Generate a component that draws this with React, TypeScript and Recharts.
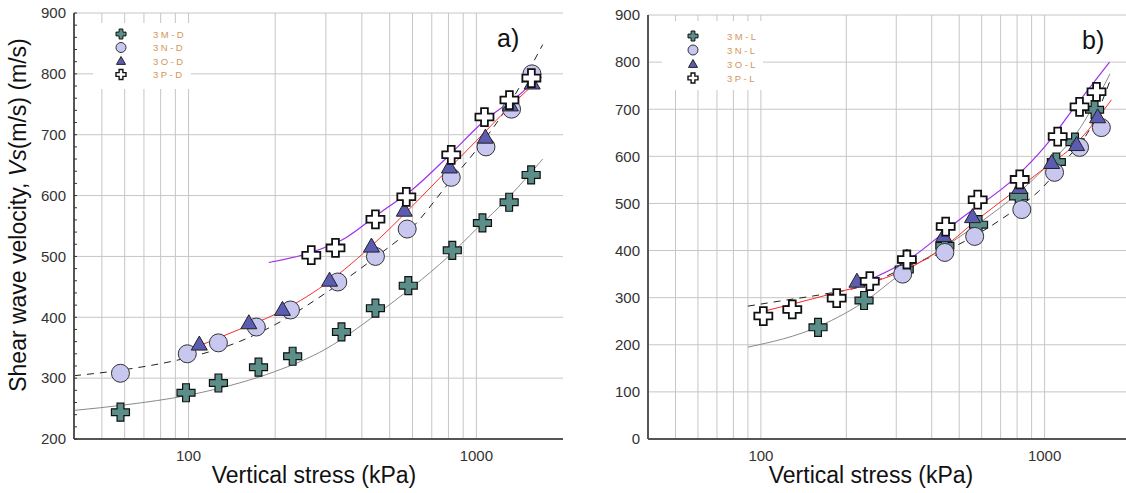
import React from "react";
import { ComposedChart, Scatter, Line, XAxis, YAxis, CartesianGrid } from "recharts";

type Pt = { x: number; y: number };

// panel a) measured points (kPa, m/s)
const m3D: Pt[] = [
  { x: 58, y: 244 }, { x: 98, y: 276 }, { x: 127, y: 292 }, { x: 175, y: 318 },
  { x: 230, y: 336 }, { x: 340, y: 376 }, { x: 446, y: 415 }, { x: 580, y: 452 },
  { x: 825, y: 510 }, { x: 1050, y: 555 }, { x: 1300, y: 589 }, { x: 1550, y: 634 },
];
const n3D: Pt[] = [
  { x: 58, y: 308 }, { x: 99, y: 340 }, { x: 127, y: 358 }, { x: 172, y: 384 },
  { x: 226, y: 412 }, { x: 330, y: 458 }, { x: 446, y: 500 }, { x: 575, y: 545 },
  { x: 818, y: 630 }, { x: 1080, y: 680 }, { x: 1325, y: 742 }, { x: 1560, y: 800 },
];
const o3D: Pt[] = [
  { x: 109, y: 356 }, { x: 162, y: 391 }, { x: 212, y: 413 }, { x: 309, y: 461 },
  { x: 432, y: 517 }, { x: 562, y: 576 }, { x: 806, y: 647 }, { x: 1075, y: 696 },
  { x: 1312, y: 749 }, { x: 1563, y: 785 },
];
const p3D: Pt[] = [
  { x: 267, y: 502 }, { x: 324, y: 514 }, { x: 446, y: 561 }, { x: 571, y: 598 },
  { x: 818, y: 667 }, { x: 1067, y: 729 }, { x: 1303, y: 757 }, { x: 1553, y: 793 },
];

// panel a) fitted curves
const fitM_D: Pt[] = [
  { x: 40, y: 247 }, { x: 60, y: 256 }, { x: 100, y: 272 }, { x: 150, y: 292 },
  { x: 200, y: 311 }, { x: 300, y: 348 }, { x: 450, y: 405 }, { x: 600, y: 450 },
  { x: 800, y: 500 }, { x: 1000, y: 545 }, { x: 1300, y: 598 }, { x: 1700, y: 660 },
];
const fitN_D: Pt[] = [
  { x: 40, y: 304 }, { x: 60, y: 314 }, { x: 100, y: 334 }, { x: 150, y: 360 },
  { x: 200, y: 388 }, { x: 300, y: 440 }, { x: 450, y: 500 }, { x: 600, y: 548 },
  { x: 800, y: 620 }, { x: 1000, y: 675 }, { x: 1300, y: 750 }, { x: 1700, y: 848 },
];
const fitO_D: Pt[] = [
  { x: 105, y: 350 }, { x: 150, y: 380 }, { x: 200, y: 405 }, { x: 300, y: 455 },
  { x: 450, y: 525 }, { x: 550, y: 565 }, { x: 750, y: 630 }, { x: 1000, y: 690 },
  { x: 1300, y: 745 }, { x: 1690, y: 795 },
];
const fitP_D: Pt[] = [
  { x: 190, y: 490 }, { x: 260, y: 505 }, { x: 350, y: 530 }, { x: 460, y: 571 },
  { x: 600, y: 610 }, { x: 800, y: 665 }, { x: 1050, y: 720 }, { x: 1500, y: 777 },
  { x: 1670, y: 800 },
];

// panel b) measured points
const m3L: Pt[] = [
  { x: 159, y: 237 }, { x: 231, y: 294 }, { x: 320, y: 360 }, { x: 445, y: 410 },
  { x: 585, y: 455 }, { x: 810, y: 515 }, { x: 1100, y: 588 }, { x: 1280, y: 630 },
  { x: 1500, y: 699 },
];
const n3L: Pt[] = [
  { x: 316, y: 350 }, { x: 445, y: 396 }, { x: 567, y: 430 }, { x: 831, y: 487 },
  { x: 1084, y: 566 }, { x: 1328, y: 619 }, { x: 1585, y: 661 },
];
const o3L: Pt[] = [
  { x: 218, y: 335 }, { x: 327, y: 386 }, { x: 441, y: 432 }, { x: 557, y: 472 },
  { x: 817, y: 534 }, { x: 1059, y: 587 }, { x: 1297, y: 625 }, { x: 1538, y: 684 },
];
const p3L: Pt[] = [
  { x: 102, y: 261 }, { x: 129, y: 275 }, { x: 185, y: 299 }, { x: 242, y: 335 },
  { x: 327, y: 381 }, { x: 448, y: 451 }, { x: 581, y: 508 }, { x: 817, y: 551 },
  { x: 1112, y: 642 }, { x: 1328, y: 705 }, { x: 1524, y: 737 },
];

// panel b) fitted curves
const fitM_L: Pt[] = [
  { x: 90, y: 195 }, { x: 160, y: 239 }, { x: 240, y: 298 }, { x: 300, y: 343 },
  { x: 450, y: 410 }, { x: 600, y: 462 }, { x: 800, y: 520 }, { x: 1000, y: 575 },
  { x: 1300, y: 650 }, { x: 1700, y: 775 },
];
const fitN_L: Pt[] = [
  { x: 90, y: 282 }, { x: 120, y: 294 }, { x: 165, y: 307 }, { x: 230, y: 325 },
  { x: 330, y: 367 }, { x: 450, y: 400 }, { x: 600, y: 440 }, { x: 800, y: 490 },
  { x: 950, y: 525 }, { x: 1200, y: 595 }, { x: 1440, y: 657 }, { x: 1700, y: 760 },
];
const fitO_L: Pt[] = [
  { x: 102, y: 271 }, { x: 185, y: 311 }, { x: 250, y: 333 }, { x: 430, y: 402 },
  { x: 580, y: 466 }, { x: 800, y: 530 }, { x: 1000, y: 575 }, { x: 1280, y: 625 },
  { x: 1720, y: 720 },
];
const fitP_L: Pt[] = [
  { x: 225, y: 330 }, { x: 330, y: 380 }, { x: 502, y: 466 }, { x: 795, y: 557 },
  { x: 1000, y: 620 }, { x: 1256, y: 699 }, { x: 1694, y: 800 },
];

// axes
const xDomain: [number, number] = [40, 2000];
const xLabelTicks = [100, 1000];
const xGridValues = [50, 60, 70, 80, 90, 100, 200, 300, 400, 500, 600, 700, 800, 900, 1000];
const yMajorA = [200, 300, 400, 500, 600, 700, 800, 900];
const yMinorA = [
  200, 220, 240, 260, 280, 300, 320, 340, 360, 380, 400, 420, 440, 460, 480, 500,
  520, 540, 560, 580, 600, 620, 640, 660, 680, 700, 720, 740, 760, 780, 800, 820,
  840, 860, 880, 900,
];
const yMajorB = [0, 100, 200, 300, 400, 500, 600, 700, 800, 900];
const legendA = ["3M-D", "3N-D", "3O-D", "3P-D"];
const legendB = ["3M-L", "3N-L", "3O-L", "3P-L"];

const FONT = "Arial, 'Liberation Sans', sans-serif";
const TEAL = "#5b8d89";
const LAV = "#c7c7f0";
const NAVY = "#5c5cb2";
const GRID = "#c6c6c6";
const AXIS = "#555";

const plusPath = (cx: number, cy: number, a: number, t: number) =>
  `M${cx - t},${cy - a}H${cx + t}V${cy - t}H${cx + a}V${cy + t}H${cx + t}V${cy + a}H${cx - t}V${cy + t}H${cx - a}V${cy - t}H${cx - t}Z`;

function Plus({ cx, cy, fill, a = 9, t = 3.4, sw = 1.2 }: any) {
  return <path d={plusPath(cx, cy, a, t)} fill={fill} stroke="#111" strokeWidth={sw} />;
}
function Dot({ cx, cy, r = 9 }: any) {
  return <circle cx={cx} cy={cy} r={r} fill={LAV} stroke="#333" strokeWidth={1} />;
}
function Tri({ cx, cy, s = 8 }: any) {
  return (
    <polygon
      points={`${cx},${cy - s} ${cx + s},${cy + s * 0.75} ${cx - s},${cy + s * 0.75}`}
      fill={NAVY}
      stroke="#222"
      strokeWidth={1}
    />
  );
}

const shapeM = (p: any) => <Plus cx={p.cx} cy={p.cy} fill={TEAL} />;
const shapeN = (p: any) => <Dot cx={p.cx} cy={p.cy} />;
const shapeO = (p: any) => <Tri cx={p.cx} cy={p.cy} />;
const shapeP = (p: any) => <Plus cx={p.cx} cy={p.cy} fill="#fff" sw={1.8} />;

const makeYTick = (majors: number[], inward: number) => (props: any) => {
  const { x, y, payload } = props;
  const v = payload.value;
  const axisX = x + 8;
  return (
    <g>
      {inward > 0 && <line x1={axisX} x2={axisX + inward} y1={y} y2={y} stroke="#333" />}
      {majors.includes(v) && (
        <text x={x} y={y} dy="0.355em" textAnchor="end" fontSize={15} fill="#333" fontFamily={FONT}>
          {v}
        </text>
      )}
    </g>
  );
};

type PanelProps = {
  width: number;
  margin: { top: number; right: number; bottom: number; left: number };
  yWidth: number;
  yDomain: [number, number];
  yMajor: number[];
  yMinor?: number[];
  m: Pt[]; n: Pt[]; o: Pt[]; p: Pt[];
  fm: Pt[]; fn: Pt[]; fo: Pt[]; fp: Pt[];
};

function Panel(pp: PanelProps) {
  const ticks = pp.yMinor ?? pp.yMajor;
  return (
    <ComposedChart width={pp.width} height={493} margin={pp.margin}>
      <CartesianGrid
        stroke={GRID}
        verticalValues={xGridValues}
        horizontalValues={pp.yMajor}
      />
      <XAxis
        dataKey="x"
        type="number"
        scale="log"
        domain={xDomain}
        allowDataOverflow
        ticks={xLabelTicks}
        interval={0}
        height={54}
        tickLine={false}
        tickSize={6}
        tickMargin={5}
        axisLine={{ stroke: AXIS, strokeWidth: 2 }}
        tick={{ fontSize: 15, fill: "#333", fontFamily: FONT }}
      />
      <XAxis
        xAxisId="top"
        orientation="top"
        type="number"
        scale="log"
        domain={xDomain}
        allowDataOverflow
        height={0}
        tick={false}
        tickLine={false}
        axisLine={{ stroke: AXIS, strokeWidth: 1.5 }}
      />
      <YAxis
        dataKey="y"
        type="number"
        domain={pp.yDomain}
        allowDataOverflow
        ticks={ticks}
        interval={0}
        width={pp.yWidth}
        tickLine={false}
        tickSize={6}
        tickMargin={2}
        axisLine={{ stroke: AXIS, strokeWidth: 2 }}
        tick={makeYTick(pp.yMajor, pp.yMinor ? 3 : 0)}
      />
      <YAxis
        yAxisId="r"
        orientation="right"
        type="number"
        domain={pp.yDomain}
        allowDataOverflow
        ticks={ticks}
        interval={0}
        width={0}
        mirror
        tickSize={3}
        tick={false}
        tickLine={{ stroke: "#222" }}
        axisLine={{ stroke: "#333", strokeWidth: 2 }}
      />
      <Scatter data={pp.m} dataKey="y" shape={shapeM} isAnimationActive={false} />
      <Scatter data={pp.n} dataKey="y" shape={shapeN} isAnimationActive={false} />
      <Scatter data={pp.o} dataKey="y" shape={shapeO} isAnimationActive={false} />
      <Scatter data={pp.p} dataKey="y" shape={shapeP} isAnimationActive={false} />
      <Line data={pp.fm} dataKey="y" type="monotone" stroke="#8a8a8a" strokeWidth={1} dot={false} activeDot={false} isAnimationActive={false} />
      <Line data={pp.fn} dataKey="y" type="monotone" stroke="#222" strokeWidth={1} strokeDasharray="7 6" dot={false} activeDot={false} isAnimationActive={false} />
      <Line data={pp.fo} dataKey="y" type="monotone" stroke="#ff2a2a" strokeWidth={1} dot={false} activeDot={false} isAnimationActive={false} />
      <Line data={pp.fp} dataKey="y" type="monotone" stroke="#a030f0" strokeWidth={1.2} dot={false} activeDot={false} isAnimationActive={false} />
    </ComposedChart>
  );
}

function LegendBox({ x, y, w, h, sx, tx, rows, labels }: any) {
  return (
    <g>
      <rect x={x} y={y} width={w} height={h} fill="#fff" />
      {labels.map((lab: string, i: number) => {
        const cy = rows[i];
        return (
          <g key={lab}>
            {i === 0 && <Plus cx={sx} cy={cy} fill={TEAL} a={5} t={1.9} sw={1} />}
            {i === 1 && <Dot cx={sx} cy={cy} r={5} />}
            {i === 2 && <Tri cx={sx} cy={cy} s={4.5} />}
            {i === 3 && <Plus cx={sx} cy={cy} fill="#fff" a={5} t={1.9} sw={1.4} />}
            <text x={tx} y={cy + 3.5} fontSize={9.5} letterSpacing={2.5} fill="#d4965a" fontFamily={FONT}>
              {lab}
            </text>
          </g>
        );
      })}
    </g>
  );
}

export default function App() {
  return (
    <div
      style={{
        position: "fixed",
        left: 0,
        top: 0,
        width: 1126,
        height: 493,
        overflow: "hidden",
        background: "#fff",
      }}
    >
      <div style={{ position: "absolute", left: 0, top: 0 }}>
        <Panel
          width={580}
          margin={{ top: 13, right: 17, bottom: 0, left: 0 }}
          yWidth={74}
          yDomain={[200, 900]}
          yMajor={yMajorA}
          yMinor={yMinorA}
          m={m3D} n={n3D} o={o3D} p={p3D}
          fm={fitM_D} fn={fitN_D} fo={fitO_D} fp={fitP_D}
        />
      </div>
      <div style={{ position: "absolute", left: 600, top: 0 }}>
        <Panel
          width={560}
          margin={{ top: 15, right: 30, bottom: 0, left: 0 }}
          yWidth={48}
          yDomain={[0, 900]}
          yMajor={yMajorB}
          m={m3L} n={n3L} o={o3L} p={p3L}
          fm={fitM_L} fn={fitN_L} fo={fitO_L} fp={fitP_L}
        />
      </div>
      <svg
        width={1126}
        height={493}
        style={{ position: "absolute", left: 0, top: 0, pointerEvents: "none" }}
      >
        <LegendBox x={93} y={23} w={98} h={66} sx={121} tx={153} rows={[34, 47.5, 61, 74.5]} labels={legendA} />
        <LegendBox x={662} y={21} w={101} h={69} sx={693} tx={727} rows={[36, 50, 64, 78]} labels={legendB} />
        <text x={497} y={47} fontSize={25} fill="#111" fontFamily={FONT}>a)</text>
        <text x={1082} y={49} fontSize={25} fill="#111" fontFamily={FONT}>b)</text>
        <text
          transform="translate(26,215) rotate(-90)"
          textAnchor="middle"
          fontSize={23}
          fill="#111"
          fontFamily={FONT}
        >
          Shear wave velocity, <tspan fontStyle="italic">Vs</tspan>(m/s) (m/s)
        </text>
        <text x={314} y={483} textAnchor="middle" fontSize={23} fill="#111" fontFamily={FONT}>
          Vertical stress (kPa)
        </text>
        <text x={871} y={483} textAnchor="middle" fontSize={23} fill="#111" fontFamily={FONT}>
          Vertical stress (kPa)
        </text>
      </svg>
    </div>
  );
}
